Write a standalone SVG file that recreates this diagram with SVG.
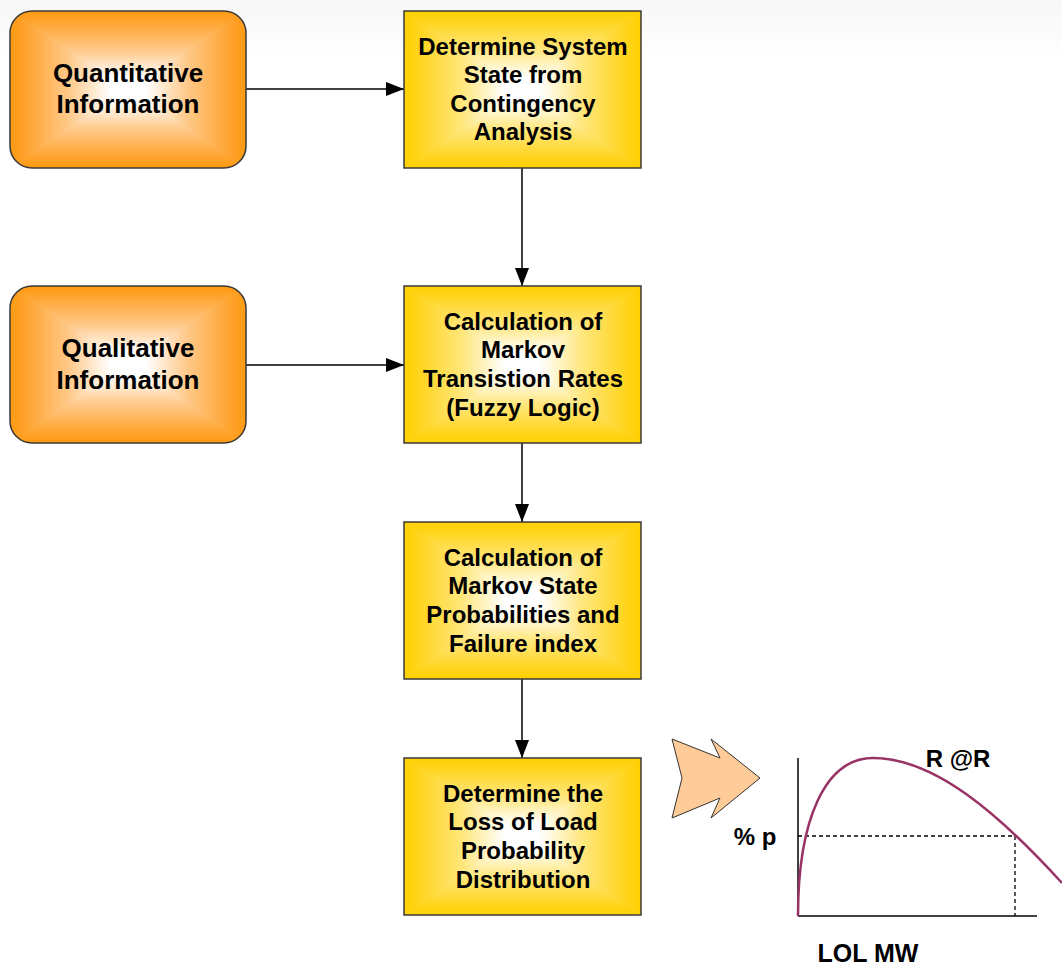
<svg xmlns="http://www.w3.org/2000/svg" xmlns:xlink="http://www.w3.org/1999/xlink" width="1062" height="966" viewBox="0 0 1062 966">
<defs>
<style>
.t{font-family:"Liberation Sans",Arial,sans-serif;font-weight:bold;fill:#000;text-anchor:middle}
.r{font-size:24px}
.l{font-size:26px}
.c{stroke:#000;stroke-width:1.5;fill:none}
.frame{fill:none;stroke:#3a3a3a;stroke-width:1.5}
.tri{shape-rendering:crispEdges}
</style>
<linearGradient id="bg" x1="0" y1="0" x2="0" y2="1"><stop offset="0" stop-color="#f7f7f7"/><stop offset="1" stop-color="#ffffff"/></linearGradient>
<linearGradient id="yT" x1="0" y1="0" x2="0" y2="1"><stop offset="0" stop-color="#ffd000"/><stop offset="0.12" stop-color="#ffd41a"/><stop offset="0.5" stop-color="#ffe77f"/><stop offset="0.85" stop-color="#ffffff"/></linearGradient>
<linearGradient id="yB" x1="0" y1="1" x2="0" y2="0"><stop offset="0" stop-color="#ffd000"/><stop offset="0.12" stop-color="#ffd41a"/><stop offset="0.5" stop-color="#ffe77f"/><stop offset="0.85" stop-color="#ffffff"/></linearGradient>
<linearGradient id="yL" x1="0" y1="0" x2="1" y2="0"><stop offset="0" stop-color="#ffd000"/><stop offset="0.12" stop-color="#ffd41a"/><stop offset="0.5" stop-color="#ffe77f"/><stop offset="0.85" stop-color="#ffffff"/></linearGradient>
<linearGradient id="yR" x1="1" y1="0" x2="0" y2="0"><stop offset="0" stop-color="#ffd000"/><stop offset="0.12" stop-color="#ffd41a"/><stop offset="0.5" stop-color="#ffe77f"/><stop offset="0.85" stop-color="#ffffff"/></linearGradient>
<linearGradient id="oT" x1="0" y1="0" x2="0" y2="1"><stop offset="0" stop-color="#ff9a10"/><stop offset="0.12" stop-color="#ffa22a"/><stop offset="0.5" stop-color="#ffc98a"/><stop offset="0.85" stop-color="#ffffff"/></linearGradient>
<linearGradient id="oB" x1="0" y1="1" x2="0" y2="0"><stop offset="0" stop-color="#ff9a10"/><stop offset="0.12" stop-color="#ffa22a"/><stop offset="0.5" stop-color="#ffc98a"/><stop offset="0.85" stop-color="#ffffff"/></linearGradient>
<linearGradient id="oL" x1="0" y1="0" x2="1" y2="0"><stop offset="0" stop-color="#ff9a10"/><stop offset="0.12" stop-color="#ffa22a"/><stop offset="0.5" stop-color="#ffc98a"/><stop offset="0.85" stop-color="#ffffff"/></linearGradient>
<linearGradient id="oR" x1="1" y1="0" x2="0" y2="0"><stop offset="0" stop-color="#ff9a10"/><stop offset="0.12" stop-color="#ffa22a"/><stop offset="0.5" stop-color="#ffc98a"/><stop offset="0.85" stop-color="#ffffff"/></linearGradient>
<clipPath id="rr"><rect x="0" y="0" width="236" height="157" rx="22" ry="22"/></clipPath>
<g id="pillowY">
<rect x="0" y="0" width="237" height="157" fill="#ffe77f"/>
<polygon class="tri" points="0,0 237,0 118.5,78.5" fill="url(#yT)"/>
<polygon class="tri" points="0,157 237,157 118.5,78.5" fill="url(#yB)"/>
<polygon class="tri" points="0,0 0,157 118.5,78.5" fill="url(#yL)"/>
<polygon class="tri" points="237,0 237,157 118.5,78.5" fill="url(#yR)"/>
<rect x="0" y="0" width="237" height="157" class="frame"/>
</g>
<g id="pillowO">
<g clip-path="url(#rr)">
<rect x="0" y="0" width="236" height="157" fill="#ffc98a"/>
<polygon class="tri" points="0,0 236,0 118,78.5" fill="url(#oT)"/>
<polygon class="tri" points="0,157 236,157 118,78.5" fill="url(#oB)"/>
<polygon class="tri" points="0,0 0,157 118,78.5" fill="url(#oL)"/>
<polygon class="tri" points="236,0 236,157 118,78.5" fill="url(#oR)"/>
</g>
<rect x="0" y="0" width="236" height="157" rx="22" ry="22" class="frame"/>
</g>
<marker id="av" markerWidth="18" markerHeight="14" refX="18" refY="7" orient="auto" markerUnits="userSpaceOnUse" viewBox="0 0 18 14">
<path d="M0,0 L18,7 L0,14 Z" fill="#000"/>
</marker>
</defs>
<rect x="0" y="0" width="1062" height="60" fill="url(#bg)"/>
<rect x="0" y="60" width="1062" height="906" fill="#ffffff"/>

<g id="connectors">
<line x1="246" y1="89" x2="404" y2="89" class="c" marker-end="url(#av)"/>
<line x1="246" y1="365" x2="404" y2="365" class="c" marker-end="url(#av)"/>
<line x1="522" y1="168" x2="522" y2="286" class="c" marker-end="url(#av)"/>
<line x1="522" y1="443" x2="522" y2="522" class="c" marker-end="url(#av)"/>
<line x1="522" y1="679" x2="522" y2="758" class="c" marker-end="url(#av)"/>
</g>

<g id="quantitative">
<use xlink:href="#pillowO" x="10" y="11"/>
<text class="t l" x="128" y="82">Quantitative</text>
<text class="t l" x="128" y="113">Information</text>
</g>
<g id="qualitative">
<use xlink:href="#pillowO" x="10" y="286"/>
<text class="t l" x="128" y="357">Qualitative</text>
<text class="t l" x="128" y="389">Information</text>
</g>
<g id="systemState">
<use xlink:href="#pillowY" x="404" y="11"/>
<text class="t r" x="523" y="55">Determine System</text>
<text class="t r" x="523" y="83">State from</text>
<text class="t r" x="523" y="112">Contingency</text>
<text class="t r" x="523" y="140">Analysis</text>
</g>
<g id="transitionRates">
<use xlink:href="#pillowY" x="404" y="286"/>
<text class="t r" x="523" y="330">Calculation of</text>
<text class="t r" x="523" y="358">Markov</text>
<text class="t r" x="523" y="387">Transistion Rates</text>
<text class="t r" x="523" y="416">(Fuzzy Logic)</text>
</g>
<g id="stateProbabilities">
<use xlink:href="#pillowY" x="404" y="522"/>
<text class="t r" x="523" y="566">Calculation of</text>
<text class="t r" x="523" y="594">Markov State</text>
<text class="t r" x="523" y="623">Probabilities and</text>
<text class="t r" x="523" y="652">Failure index</text>
</g>
<g id="lossOfLoad">
<use xlink:href="#pillowY" x="404" y="758"/>
<text class="t r" x="523" y="802">Determine the</text>
<text class="t r" x="523" y="830">Loss of Load</text>
<text class="t r" x="523" y="859">Probability</text>
<text class="t r" x="523" y="888">Distribution</text>
</g>

<g id="bigArrow">
<polygon points="672,739 720,758 711,739 760,778 711,818 720,798 672,818 682,778" fill="#ffcc99" stroke="#333" stroke-width="1"/>
</g>

<g id="chart">
<line x1="798" y1="758" x2="798" y2="916" stroke="#000" stroke-width="1.5"/>
<line x1="798" y1="916" x2="1037" y2="916" stroke="#000" stroke-width="1.5"/>
<line x1="798" y1="836" x2="1015" y2="836" stroke="#000" stroke-width="1.3" stroke-dasharray="4,3"/>
<line x1="1015" y1="836" x2="1015" y2="916" stroke="#000" stroke-width="1.3" stroke-dasharray="4,3"/>
<path d="M798,916 C798,820 825,758 873,758 C935,758 1000,815 1062,883" fill="none" stroke="#993366" stroke-width="2.5"/>
<text class="t r" x="958" y="767">R @R</text>
<text class="t r" x="755" y="845">% p</text>
<text class="t" x="868" y="962" style="font-size:25px">LOL MW</text>
</g>
</svg>
